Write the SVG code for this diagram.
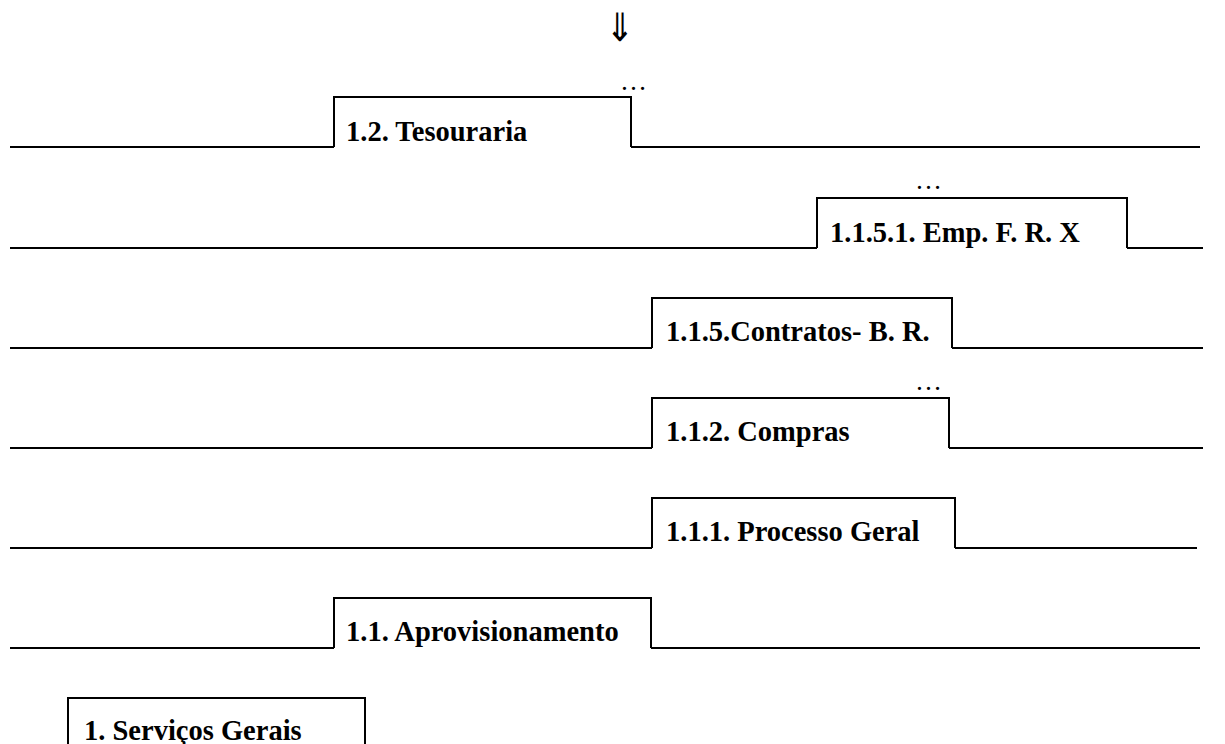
<svg xmlns="http://www.w3.org/2000/svg" width="1225" height="744" viewBox="0 0 1225 744">
<style>
.ln{fill:none;stroke:#000;stroke-width:2;}
.t{font-family:"Liberation Serif","Times New Roman",serif;font-weight:bold;font-size:28.5px;fill:#000;}
.d{font-family:"Liberation Serif","Times New Roman",serif;font-size:27px;fill:#000;}
.a{font-family:"DejaVu Sans",sans-serif;font-size:30px;fill:#000;}
</style>
<rect width="1225" height="744" fill="#fff"/>
<text class="a" transform="translate(620,41) scale(1.15,1.3)" x="0" y="0" text-anchor="middle">⇓</text>
<g id="connectors">
<path class="ln" d="M10 147H334M631 147H1200"/>
<path class="ln" d="M10 248H817M1127 248H1203"/>
<path class="ln" d="M10 348H652M952 348H1203"/>
<path class="ln" d="M10 448H652M949 448H1203"/>
<path class="ln" d="M10 548H652M955 548H1197"/>
<path class="ln" d="M10 648H334M651 648H1200"/>
</g>
<g id="n12">
<path class="ln" d="M334 147V97H631V147"/>
<text class="d" x="620" y="90">…</text>
<text class="t" x="346" y="141">1.2. Tesouraria</text>
</g>
<g id="n1151">
<path class="ln" d="M817 248V198H1127V248"/>
<text class="d" x="915" y="189">…</text>
<text class="t" x="830" y="242">1.1.5.1. Emp. F. R. X</text>
</g>
<g id="n115">
<path class="ln" d="M652 348V298H952V348"/>
<text class="t" x="666" y="341">1.1.5.Contratos- B. R.</text>
</g>
<g id="n112">
<path class="ln" d="M652 448V398H949V448"/>
<text class="d" x="915" y="390">…</text>
<text class="t" x="666" y="441">1.1.2. Compras</text>
</g>
<g id="n111">
<path class="ln" d="M652 548V498H955V548"/>
<text class="t" x="666" y="541">1.1.1. Processo Geral</text>
</g>
<g id="n11">
<path class="ln" d="M334 648V598H651V648"/>
<text class="t" x="346" y="641">1.1. Aprovisionamento</text>
</g>
<g id="n1">
<path class="ln" d="M68 750V698H365V750"/>
<text class="t" x="84" y="740">1. Serviços Gerais</text>
</g>
</svg>
